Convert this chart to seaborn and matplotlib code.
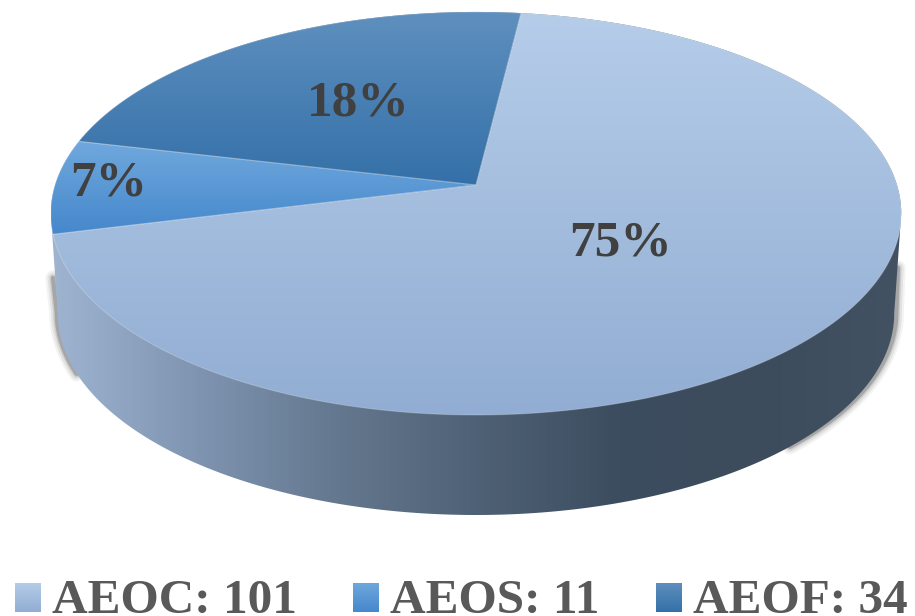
import numpy as np
import matplotlib
matplotlib.use("Agg")
import matplotlib.pyplot as plt
from matplotlib.patches import Patch, Polygon
import seaborn as sns

# ----------------- DATA -----------------
CATEGORIES = ["AEOC", "AEOS", "AEOF"]
COUNTS = [101, 11, 34]
PERCENT_LABELS = ["75%", "7%", "18%"]
LABEL_XY = [(620, 243), (109, 183), (358, 104)]

# top colour, bottom colour of each slice
SLICE_COLORS = [("#b5cde9", "#92add3"), ("#70a8dd", "#4588cc"), ("#5f90bf", "#3470a8")]
WALL_COLORS = ["#9fb4d0", "#8095b2", "#64788f", "#4f6175", "#3c4d60", "#3c4c5c", "#425263"]

# pie perspective, in pixels
CX, CY = 476, 185
RX, RY, TILT = 421, 197.5, 0.1413
DEPTH = 100
# ----------------------------------------

sns.set_theme(style="white")
plt.rcParams["font.family"] = ["Liberation Serif", "DejaVu Serif"]


def project(theta):
    # unit circle angle (deg) to canvas pixels, near side looks bigger
    t = np.radians(theta)
    w = 1 + TILT * np.sin(t)
    return CX + RX * np.cos(t) / w, CY - RY * np.sin(t) / w


def gradient_fill(ax, xy, cmap, horizontal=False, zorder=2):
    xy = np.asarray(xy)
    x0, x1, y0, y1 = xy[:, 0].min(), xy[:, 0].max(), xy[:, 1].min(), xy[:, 1].max()
    grad = np.linspace(0, 1, 256)
    grad = grad[None, :] if horizontal else grad[:, None]
    clip = Polygon(xy, closed=True, transform=ax.transData, facecolor="none", edgecolor="none")
    ax.add_patch(clip)
    img = ax.imshow(grad, cmap=cmap, extent=(x0, x1, y1, y0), aspect="auto", zorder=zorder)
    img.set_clip_path(clip)
    return img


fig, ax = plt.subplots(figsize=(9.15, 6.16), dpi=100)
fig.subplots_adjust(0, 0, 1, 1)

wedges, _ = ax.pie(COUNTS, startangle=83, counterclock=False)
spans = [(w.theta1, w.theta2) for w in wedges]
for w in wedges:
    w.remove()

# wall under the top surface, from one side tangent of the rim to the other
front = np.linspace(188, 352, 200)
back = np.linspace(-8, 188, 200)
bx, by = project(front)
bx = CX + (bx - CX) * 418 / 425
by = by + DEPTH
rx, ry = project(back)
wall = np.vstack([np.column_stack([bx, by]), np.column_stack([rx, ry])])

# soft shadow along the sides of the wall
left = front < 206
right = front > 312
shadow_paths = [
    (np.r_[53, bx[left] - 1], np.r_[278, by[left] - 1]),
    (np.r_[bx[right] + 2, 898], np.r_[by[right] - 1, 268]),
]
for lw, a in zip([11, 8, 5, 3], [0.05, 0.08, 0.12, 0.2]):
    for sx, sy in shadow_paths:
        ax.plot(sx, sy, color="#1c1c1c", lw=lw, alpha=a, solid_capstyle="round", zorder=1)
gradient_fill(ax, wall, sns.blend_palette(WALL_COLORS, 256, as_cmap=True), horizontal=True)

# top surface slices
for (t1, t2), (c_top, c_bot) in zip(spans, SLICE_COLORS):
    arc = np.linspace(t1, t2, 300)
    px, py = project(arc)
    poly = np.vstack([[CX, CY], np.column_stack([px, py])])
    gradient_fill(ax, poly, sns.blend_palette([c_top, c_bot], 256, as_cmap=True), zorder=3)
    ax.add_patch(Polygon(poly, closed=True, facecolor="none", edgecolor="white",
                         lw=0.8, alpha=0.22, zorder=4))

for (x, y), lab in zip(LABEL_XY, PERCENT_LABELS):
    ax.text(x, y, lab, ha="center", va="center", fontsize=37, fontweight="bold",
            color="#404040", zorder=5)

ax.set_xlim(0, 915)
ax.set_ylim(616, 0)
ax.axis("off")

handles = [Patch(facecolor="none", edgecolor="none") for c in SLICE_COLORS]
labels = [f"{n}: {v}" for n, v in zip(CATEGORIES, COUNTS)]
leg = ax.legend(handles, labels, loc="lower left", bbox_to_anchor=(15, 623),
                bbox_transform=ax.transData, ncols=3, frameon=False, borderpad=0,
                borderaxespad=0, handlelength=0.53, handleheight=0.53,
                handletextpad=0.22, columnspacing=1.14,
                prop={"size": 35.5, "weight": "bold"}, labelcolor="#595959")

# gradient on the legend squares
fig.canvas.draw()
inv = ax.transData.inverted()
for patch, (c_top, c_bot) in zip(leg.get_patches(), SLICE_COLORS):
    bb = patch.get_window_extent().transformed(inv)
    sq = [(bb.x0, bb.y0 + 2), (bb.x1, bb.y0 + 2), (bb.x1, bb.y1 + 2), (bb.x0, bb.y1 + 2)]
    gradient_fill(ax, sq, sns.blend_palette([c_top, c_bot], 256, as_cmap=True), zorder=6)

ax.set_xlim(0, 915)
ax.set_ylim(616, 0)
fig.savefig("out.png", dpi=100)
